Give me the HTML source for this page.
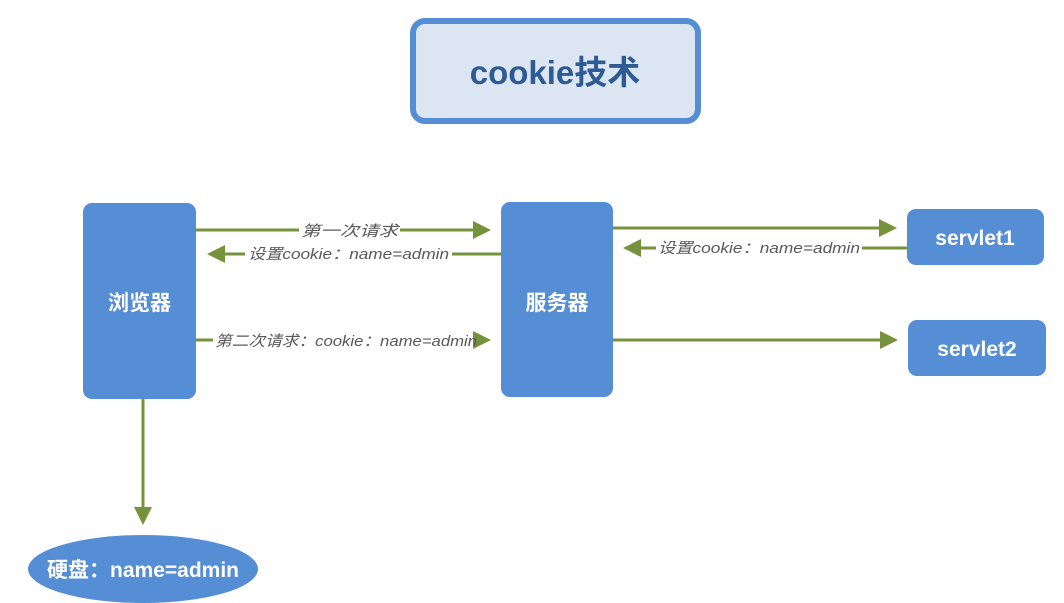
<!DOCTYPE html>
<html><head><meta charset="utf-8">
<style>
html,body{margin:0;padding:0;background:#fff;}
svg{display:block;}
.t{font-family:"Liberation Sans","Noto Sans CJK SC",sans-serif;}
.lab{font-family:"Liberation Sans","Noto Sans CJK SC",sans-serif;font-size:15px;font-style:italic;fill:#595959;}
.node{font-family:"Liberation Sans","Noto Sans CJK SC",sans-serif;font-size:21px;font-weight:bold;fill:#fff;}
</style></head><body>
<svg width="1064" height="603" viewBox="0 0 1064 603" xmlns="http://www.w3.org/2000/svg">
<defs>
<marker id="ah" markerWidth="6" markerHeight="6" refX="5" refY="3" orient="auto" markerUnits="strokeWidth">
<path d="M0,0 L6,3 L0,6 z" fill="#76923c"/>
</marker>
</defs>
<rect x="413" y="21" width="285" height="100" rx="12" fill="#dce6f2" stroke="#558ed5" stroke-width="6"/>
<text x="555" y="84" text-anchor="middle" class="t" font-size="33" font-weight="bold" fill="#2e5b94">cookie技术</text>

<rect x="83" y="203" width="113" height="196" rx="9" fill="#558ed5"/>
<text x="139.5" y="310" text-anchor="middle" class="node" font-size="22">浏览器</text>
<rect x="501" y="202" width="112" height="195" rx="9" fill="#558ed5"/>
<text x="557" y="310" text-anchor="middle" class="node" font-size="22">服务器</text>
<rect x="907" y="209" width="137" height="56" rx="9" fill="#558ed5"/>
<text x="975" y="245" text-anchor="middle" class="node">servlet1</text>
<rect x="908" y="320" width="138" height="56" rx="9" fill="#558ed5"/>
<text x="977" y="356" text-anchor="middle" class="node">servlet2</text>
<ellipse cx="143" cy="569" rx="115" ry="34" fill="#558ed5"/>
<text x="143" y="577" text-anchor="middle" class="node" font-size="18">硬盘：name=admin</text>

<g stroke="#76923c" stroke-width="3" fill="none">
<line x1="196" y1="230" x2="299" y2="230"/>
<line x1="400" y1="230" x2="488" y2="230" marker-end="url(#ah)"/>
<line x1="501" y1="254" x2="452" y2="254"/>
<line x1="245" y1="254" x2="210" y2="254" marker-end="url(#ah)"/>
<line x1="196" y1="340" x2="213" y2="340"/>
<line x1="480" y1="340" x2="488" y2="340" marker-end="url(#ah)"/>
<line x1="613" y1="228" x2="894" y2="228" marker-end="url(#ah)"/>
<line x1="907" y1="248" x2="862" y2="248"/>
<line x1="656" y1="248" x2="626" y2="248" marker-end="url(#ah)"/>
<line x1="613" y1="340" x2="895" y2="340" marker-end="url(#ah)"/>
<line x1="143" y1="399" x2="143" y2="522" marker-end="url(#ah)"/>
</g>
<text x="301" y="236" class="lab" font-size="16" textLength="97" lengthAdjust="spacingAndGlyphs">第一次请求</text>
<text x="248" y="259" class="lab" textLength="201" lengthAdjust="spacingAndGlyphs">设置cookie：name=admin</text>
<text x="215" y="346" class="lab" textLength="262" lengthAdjust="spacingAndGlyphs">第二次请求：cookie：name=admin</text>
<text x="658" y="253" class="lab" textLength="202" lengthAdjust="spacingAndGlyphs">设置cookie：name=admin</text>
</svg>
</body></html>
